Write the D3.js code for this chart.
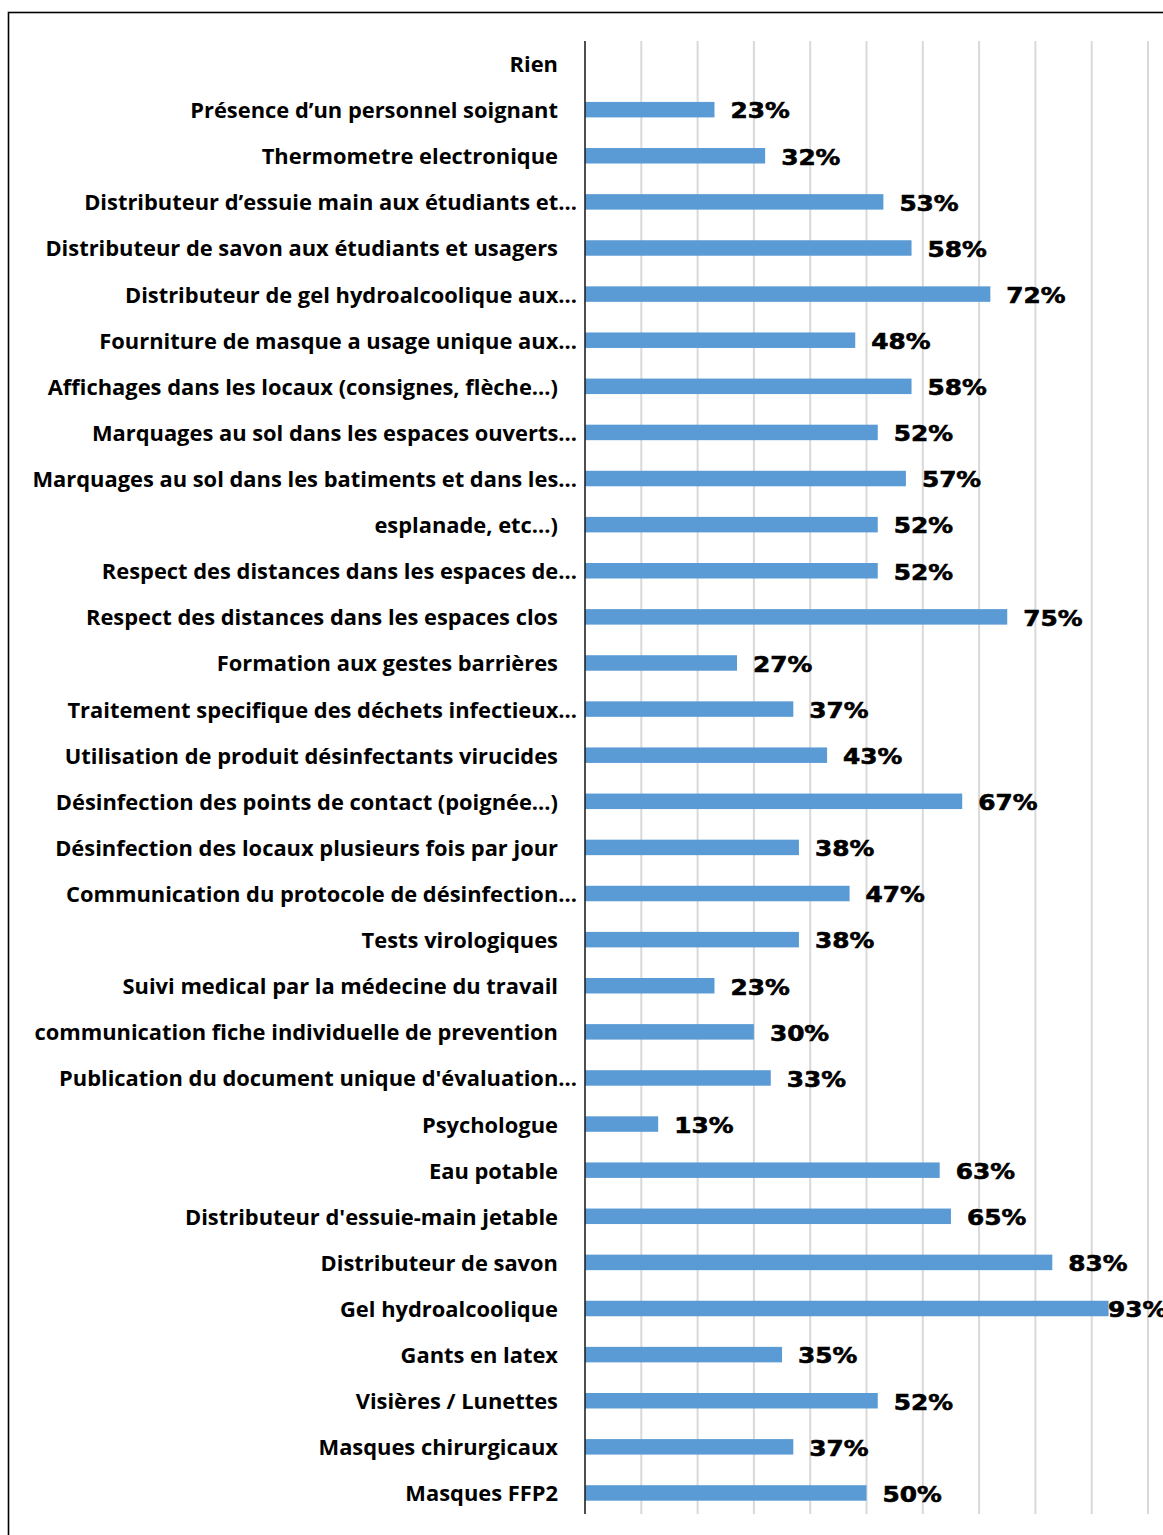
<!DOCTYPE html>
<html>
<head>
<meta charset="utf-8">
<script src="https://cdn.jsdelivr.net/npm/d3@7"></script>
<style>
  body { margin: 0; background: #fff; }
  svg { display: block; }
</style>
</head>
<body>
<svg id="chart"></svg>
<script>
// categories, top to bottom
var categories = [
  "Rien",
  "Présence d’un personnel soignant",
  "Thermometre electronique",
  "Distributeur d’essuie main aux étudiants et…",
  "Distributeur de savon aux étudiants et usagers",
  "Distributeur de gel hydroalcoolique aux…",
  "Fourniture de masque a usage unique aux…",
  "Affichages dans les locaux (consignes, flèche…)",
  "Marquages au sol dans les espaces ouverts…",
  "Marquages au sol dans les batiments et dans les…",
  "esplanade, etc...)",
  "Respect des distances dans les espaces de…",
  "Respect des distances dans les espaces clos",
  "Formation aux gestes barrières",
  "Traitement specifique des déchets infectieux…",
  "Utilisation de produit désinfectants virucides",
  "Désinfection des points de contact (poignée...)",
  "Désinfection des locaux plusieurs fois par jour",
  "Communication du protocole de désinfection…",
  "Tests virologiques",
  "Suivi medical par la médecine du travail",
  "communication fiche individuelle de prevention",
  "Publication du document unique d'évaluation…",
  "Psychologue",
  "Eau potable",
  "Distributeur d'essuie-main jetable",
  "Distributeur de savon",
  "Gel hydroalcoolique",
  "Gants en latex",
  "Visières / Lunettes",
  "Masques chirurgicaux",
  "Masques FFP2"
];

// percentages (null = no value)
var values = [null, 23, 32, 53, 58, 72, 48, 58, 52, 57, 52, 52, 75, 27, 37, 43, 67,
              38, 47, 38, 23, 30, 33, 13, 63, 65, 83, 93, 35, 52, 37, 50];

var gridTicks = [10, 20, 30, 40, 50, 60, 70, 80, 90, 100];

var data = categories.map(function (c, i) { return {cat: c, val: values[i]}; });

var W = 1163, H = 1535;
var svg = d3.select("#chart").attr("width", W).attr("height", H);

// outer frame (cut off at right/bottom in the original)
svg.append("rect")
  .attr("x", 8.5).attr("y", 12.5)
  .attr("width", 1300).attr("height", 1700)
  .attr("fill", "none").attr("stroke", "#000").attr("stroke-width", 1.6);

var x = d3.scaleLinear().domain([0, 100]).range([585, 1148]);
var y = d3.scaleBand().domain(categories).range([40.5, 1516]).paddingInner(0.664).paddingOuter(0.332);

var plotTop = 41, plotBottom = 1514;

// gridlines
svg.append("g").selectAll("line")
  .data(gridTicks)
  .join("line")
  .attr("x1", function (d) { return x(d); })
  .attr("x2", function (d) { return x(d); })
  .attr("y1", plotTop).attr("y2", plotBottom)
  .attr("stroke", "#d9d9d9").attr("stroke-width", 2);

// bars
svg.append("g").selectAll("rect")
  .data(data.filter(function (d) { return d.val != null; }))
  .join("rect")
  .attr("x", x(0))
  .attr("y", function (d) { return y(d.cat); })
  .attr("width", function (d) { return x(d.val) - x(0); })
  .attr("height", y.bandwidth())
  .attr("fill", "#5b9bd5");

// vertical axis line
svg.append("line")
  .attr("x1", x(0)).attr("x2", x(0))
  .attr("y1", plotTop).attr("y2", plotBottom)
  .attr("stroke", "#222").attr("stroke-width", 1.6);

// category labels, size fitted to the widest full label
var labelFont = "'Open Sans', sans-serif";
var probe = svg.append("text")
  .style("font-family", labelFont).style("font-weight", 700).style("font-size", "20px")
  .text("Distributeur de savon aux étudiants et usagers");
var labelSize = 20 * 513 / probe.node().getComputedTextLength();
probe.remove();

svg.append("g").selectAll("text")
  .data(data)
  .join("text")
  .attr("x", function (d) { return /…$/.test(d.cat) ? x(0) - 8 : x(0) - 27; })
  .attr("y", function (d) { return y(d.cat) + y.bandwidth() / 2; })
  .attr("text-anchor", "end")
  .attr("dominant-baseline", "central")
  .style("font-family", labelFont)
  .style("font-weight", 700)
  .style("font-size", labelSize + "px")
  .attr("fill", "#000")
  .text(function (d) { return d.cat; });

// value labels
var valW = 60, plotRight = 1168, sx = 1.18;
svg.append("g").selectAll("text")
  .data(data.filter(function (d) { return d.val != null; }))
  .join("text")
  .attr("transform", function (d) {
    var lx = Math.min(x(d.val) + 16, plotRight - valW);
    var ly = y(d.cat) + y.bandwidth() / 2 + 1.5;
    return "translate(" + lx + "," + ly + ") scale(" + sx + ",1)";
  })
  .attr("dominant-baseline", "central")
  .style("font-family", "'DejaVu Sans', sans-serif")
  .style("font-weight", 700)
  .style("font-size", "21px")
  .attr("fill", "#000")
  .attr("stroke", "#000").attr("stroke-width", 0.6)
  .text(function (d) { return d.val + "%"; });
</script>
</body>
</html>
